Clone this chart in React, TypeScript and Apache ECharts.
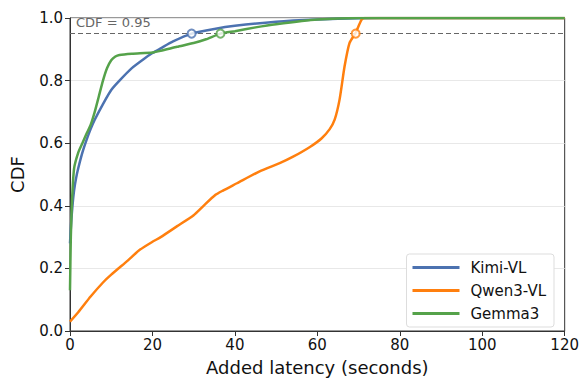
import React, { useEffect, useRef } from "react";
import * as echarts from "echarts";

const kimiX = [0, 0.3, 0.6, 1, 1.5, 2, 3, 4, 5, 6, 8, 10, 12, 15, 18, 20, 22, 25, 29.5, 35, 40, 50, 60, 70, 80, 120];
const kimiY = [0.28, 0.35, 0.4, 0.45, 0.49, 0.52, 0.57, 0.61, 0.645, 0.675, 0.725, 0.77, 0.8, 0.84, 0.87, 0.888, 0.903, 0.925, 0.95, 0.965, 0.975, 0.988, 0.995, 0.999, 1.0, 1.0];

const qwenX = [0, 2, 5, 8, 10, 14, 17, 20, 22, 26, 30, 32.4, 35.3, 37, 40.5, 46, 51, 54, 58.2, 61, 63, 64.2, 65.4, 66.6, 67.8, 69.3, 70.7, 71.5, 80, 120];
const qwenY = [0.03, 0.06, 0.11, 0.155, 0.18, 0.225, 0.26, 0.285, 0.3, 0.335, 0.37, 0.4, 0.435, 0.448, 0.472, 0.51, 0.537, 0.556, 0.588, 0.615, 0.645, 0.675, 0.74, 0.845, 0.92, 0.953, 0.994, 1.0, 1.0, 1.0];

const gemmaX = [0, 0.2, 0.5, 1, 2, 3, 4, 5, 6, 7, 8, 9, 10, 11, 12, 15, 20, 22, 26, 30, 33, 36.5, 40, 45, 50, 60, 70, 80, 120];
const gemmaY = [0.13, 0.3, 0.42, 0.52, 0.57, 0.6, 0.63, 0.658, 0.7, 0.75, 0.8, 0.84, 0.865, 0.877, 0.882, 0.886, 0.89, 0.895, 0.908, 0.92, 0.932, 0.95, 0.958, 0.97, 0.98, 0.995, 1.0, 1.0, 1.0];

const crossX = [29.5, 69.3, 36.5];
const threshold = 0.95;
const seriesNames = ["Kimi-VL", "Qwen3-VL", "Gemma3"];
const colors = ["#4c72b0", "#ff7f0e", "#55a24a"];

const zip = (xs: number[], ys: number[]) => xs.map((x, i) => [x, ys[i]]);

export default function App() {
  const ref = useRef<HTMLDivElement>(null);
  useEffect(() => {
    document.body.style.margin = "0";
    if (!ref.current) return;
    const chart = echarts.init(ref.current, undefined, { renderer: "svg", width: 582, height: 381 });
    const font = "DejaVu Sans";
    const lines = [zip(kimiX, kimiY), zip(qwenX, qwenY), zip(gemmaX, gemmaY)];
    const series: any[] = lines.map((d, i) => ({
      name: seriesNames[i],
      type: "line",
      data: d,
      showSymbol: false,
      smooth: 0.2,
      lineStyle: { width: 2.5, color: colors[i] },
      itemStyle: { color: colors[i] },
      z: 3,
      ...(i === 0
        ? {
            markLine: {
              silent: true,
              symbol: "none",
              label: { show: false },
              lineStyle: { type: [5, 3], color: "#666", width: 1 },
              data: [{ yAxis: threshold }],
              z: 1,
            },
          }
        : {}),
    }));
    crossX.forEach((x, i) => {
      series.push({
        name: seriesNames[i] + "-mark",
        type: "scatter",
        data: [[x, threshold]],
        symbol: "emptyCircle",
        symbolSize: 8,
        itemStyle: { color: colors[i], borderColor: colors[i], borderWidth: 1.5 },
        z: 5,
      });
    });
    chart.setOption({
      animation: false,
      textStyle: { fontFamily: font },
      grid: {
        left: 69,
        right: 16,
        top: 18,
        bottom: 46,
        show: true,
        borderColor: "#333",
        borderWidth: 1,
      },
      xAxis: {
        type: "value",
        min: 0,
        max: 120,
        interval: 20,
        name: "Added latency (seconds)",
        nameLocation: "middle",
        nameGap: 27,
        nameTextStyle: { fontSize: 18, color: "#111", fontFamily: font },
        axisLine: { show: true, onZero: false, lineStyle: { color: "#333" } },
        axisTick: { show: true, length: 5, lineStyle: { color: "#333" } },
        axisLabel: { fontSize: 15, color: "#111", margin: 6, fontFamily: font },
        splitLine: { show: false },
      },
      yAxis: {
        type: "value",
        min: 0,
        max: 1,
        interval: 0.2,
        name: "CDF",
        nameLocation: "middle",
        nameGap: 44,
        nameTextStyle: { fontSize: 18, color: "#111", fontFamily: font },
        axisLine: { show: true, lineStyle: { color: "#333" } },
        axisTick: { show: true, length: 5, lineStyle: { color: "#333" } },
        axisLabel: {
          fontSize: 15,
          color: "#111",
          margin: 7,
          fontFamily: font,
          formatter: (v: number) => v.toFixed(1),
        },
        splitLine: { show: true, lineStyle: { color: "#e8e8e8", width: 1 } },
      },
      legend: {
        data: seriesNames,
        orient: "vertical",
        right: 28,
        bottom: 54,
        icon: "rect",
        itemWidth: 47,
        itemHeight: 3,
        itemGap: 8,
        padding: [6, 8, 6, 6],
        backgroundColor: "#fff",
        borderColor: "#ddd",
        borderWidth: 1,
        borderRadius: 3,
        textStyle: { fontSize: 15, color: "#111", fontFamily: font, padding: [0, 0, 0, 6] },
      },
      graphic: [
        {
          type: "text",
          left: 76,
          top: 16,
          style: { text: "CDF = 0.95", fontSize: 13, fill: "#666", fontFamily: font },
          z: 10,
        },
      ],
      series,
    });
    return () => chart.dispose();
  }, []);
  return <div ref={ref} style={{ width: 582, height: 381, overflow: "hidden" }} />;
}
